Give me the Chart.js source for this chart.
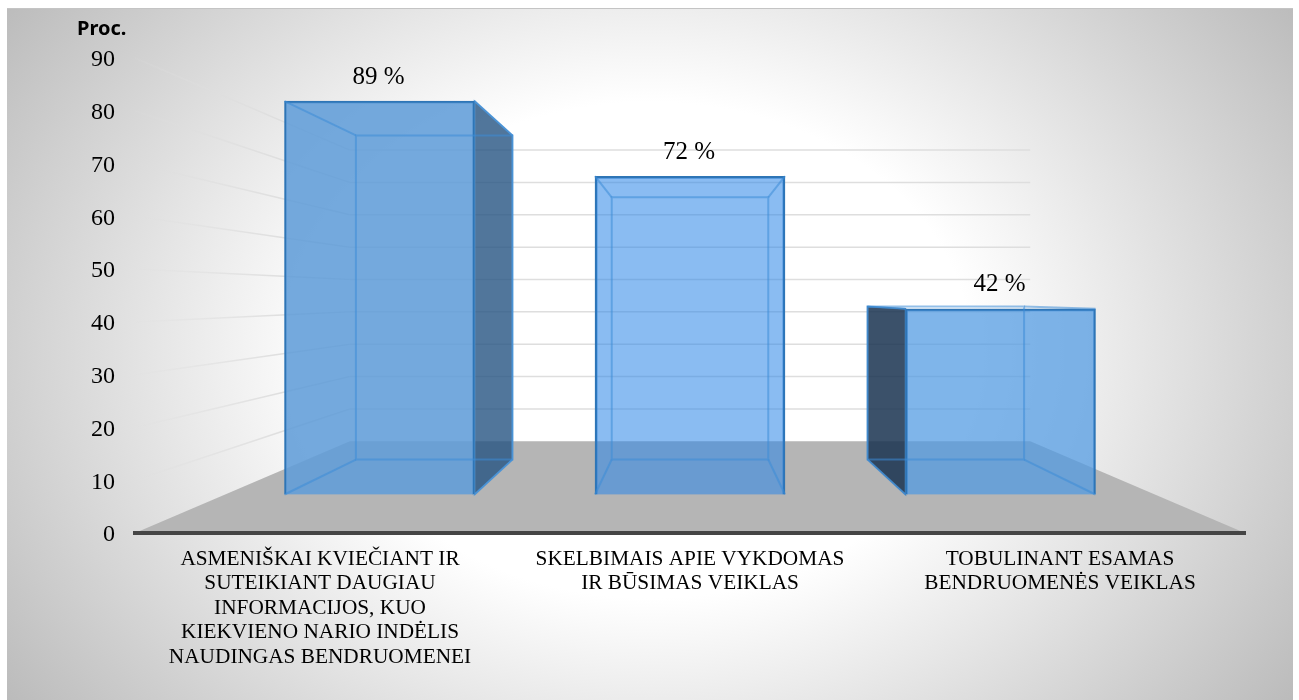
<!DOCTYPE html>
<html>
<head>
<meta charset="utf-8">
<title>Proc.</title>
<script src="https://cdn.jsdelivr.net/npm/chart.js@4"></script>
<style>
    body { margin: 0; background: #fff; }
    canvas { display: block; }
</style>
</head>
<body>
<canvas id="chart" width="1299" height="700"></canvas>
<script>
// Chart data
const categories = [
    ['ASMENIŠKAI KVIEČIANT IR', 'SUTEIKIANT DAUGIAU', 'INFORMACIJOS, KUO', 'KIEKVIENO NARIO INDĖLIS', 'NAUDINGAS BENDRUOMENEI'],
    ['SKELBIMAIS APIE VYKDOMAS', 'IR BŪSIMAS VEIKLAS'],
    ['TOBULINANT ESAMAS', 'BENDRUOMENĖS VEIKLAS']
];
const values = [89, 72, 42];
const valueLabels = ['89 %', '72 %', '42 %'];
const gridValues = [10, 20, 30, 40, 50, 60, 70, 80, 90];
const axisTitle = 'Proc.';

// Plot box and the perspective of the 3D scene
const plot = { left: 135, right: 1245, top: 58, bottom: 533 };
const vanishY = 296;
const barFront = 0.8375;   // depth of the front of the bars, the axis plane is 1
const barBack = 0.69;      // depth of the back of the bars
const wallDepth = 0.613;   // depth of the back wall
const vanishX = (plot.left + plot.right) / 2;
const barSpacing = 310.5;

// The bars are real Chart.js bars on hidden scales laid out for the front plane
const unit = (plot.bottom - plot.top) / 90;
const frontZero = vanishY + (plot.bottom - vanishY) * barFront;
const frontUnit = unit * barFront;

function project(x, y, depth) {
    return [vanishX + (x - vanishX) * depth, vanishY + (y - vanishY) * depth];
}

function polygon(ctx, pts) {
    ctx.beginPath();
    pts.forEach((p, i) => i ? ctx.lineTo(p[0], p[1]) : ctx.moveTo(p[0], p[1]));
    ctx.closePath();
}

// Corners of a bar's front face and of its back face
function barCorners(bar) {
    const half = bar.width / 2;
    const l = bar.x - half, r = bar.x + half, t = bar.y, b = bar.base;
    const k = barBack / barFront;
    return {
        l, r, t, b,
        tl: project(l, t, k), tr: project(r, t, k),
        bl: project(l, b, k), br: project(r, b, k)
    };
}

const scenePlugin = {
    id: 'scene',
    beforeDraw(chart) {
        const ctx = chart.ctx;
        const y = chart.scales.y;

        // Background
        ctx.save();
        ctx.translate(650, 350);
        ctx.scale(800, 620);
        const bg = ctx.createRadialGradient(0, 0, 0, 0, 0, 1);
        bg.addColorStop(0, '#ffffff');
        bg.addColorStop(0.4, '#ffffff');
        bg.addColorStop(1, '#b9b9b9');
        ctx.fillStyle = bg;
        ctx.fillRect(-643 / 800, -342 / 620, 1286 / 800, 692 / 620);
        ctx.restore();
        ctx.fillStyle = '#c4c4c4';
        ctx.fillRect(7, 8, 1286, 1);

        // Floor
        const backL = project(plot.left, plot.bottom, wallDepth);
        const backR = project(plot.right, plot.bottom, wallDepth);
        polygon(ctx, [[plot.left, plot.bottom], [plot.right, plot.bottom], backR, backL]);
        ctx.fillStyle = '#b5b5b5';
        ctx.fill();

        // Grid lines on the left and the back wall
        ctx.lineWidth = 1.5;
        gridValues.forEach(v => {
            const py = y.getPixelForValue(v);
            const a = project(plot.left, py, wallDepth);
            const b = project(plot.right, py, wallDepth);
            const fade = ctx.createLinearGradient(plot.left, py, a[0], a[1]);
            fade.addColorStop(0, 'rgba(222,222,222,0.1)');
            fade.addColorStop(0.7, 'rgba(222,222,222,1)');
            ctx.strokeStyle = fade;
            ctx.beginPath();
            ctx.moveTo(plot.left, py);
            ctx.lineTo(a[0], a[1]);
            ctx.stroke();
            ctx.strokeStyle = '#dedede';
            ctx.beginPath();
            ctx.moveTo(a[0], a[1]);
            ctx.lineTo(b[0], b[1]);
            ctx.stroke();
        });

        // Axis title
        ctx.fillStyle = '#000';
        ctx.font = 'bold 20px "Noto Sans"';
        ctx.textAlign = 'left';
        ctx.textBaseline = 'middle';
        ctx.fillText(axisTitle, 77, 29);
    },
    beforeDatasetsDraw(chart) {
        const ctx = chart.ctx;
        chart.getDatasetMeta(0).data.forEach(bar => {
            const c = barCorners(bar);
            // Dark side faces, only where they stick out of the front
            ctx.lineWidth = 1.5;
            if (c.tr[0] > c.r) {
                polygon(ctx, [[c.r, c.t], c.tr, c.br, [c.r, c.b]]);
                ctx.fillStyle = 'rgba(38,84,130,0.8)';
                ctx.fill();
                ctx.strokeStyle = '#5b9bd5';
                ctx.stroke();
            }
            if (c.tl[0] < c.l) {
                polygon(ctx, [[c.l, c.t], c.tl, c.bl, [c.l, c.b]]);
                ctx.fillStyle = 'rgba(25,50,80,0.85)';
                ctx.fill();
                ctx.strokeStyle = '#4a86bd';
                ctx.stroke();
            }
        });
    },
    afterDatasetsDraw(chart) {
        const ctx = chart.ctx;
        chart.getDatasetMeta(0).data.forEach((bar, i) => {
            const c = barCorners(bar);
            // Inside edges of the box
            ctx.strokeStyle = 'rgba(60,140,215,0.55)';
            ctx.lineWidth = 2;
            polygon(ctx, [c.tl, c.tr, c.br, c.bl]);
            ctx.stroke();
            [[[c.l, c.t], c.tl], [[c.r, c.t], c.tr], [[c.l, c.b], c.bl], [[c.r, c.b], c.br]].forEach(e => {
                ctx.beginPath();
                ctx.moveTo(e[0][0], e[0][1]);
                ctx.lineTo(e[1][0], e[1][1]);
                ctx.stroke();
            });
            // Value label
            ctx.fillStyle = '#000';
            ctx.font = '25px "Liberation Serif"';
            ctx.textAlign = 'center';
            ctx.textBaseline = 'middle';
            ctx.fillText(valueLabels[i], bar.x - 1, bar.y - 24);
        });
    }
};

new Chart(document.getElementById('chart'), {
    type: 'bar',
    data: {
        labels: categories,
        datasets: [{
            data: values.map((v, i) => ({ x: i, y: v })),
            xAxisID: 'xBar',
            yAxisID: 'yBar',
            barThickness: 190,
            backgroundColor: ['rgba(97,157,216,0.88)', 'rgba(42,133,231,0.55)', 'rgba(80,153,226,0.73)'],
            borderColor: '#2e75b6',
            borderWidth: 2
        }]
    },
    options: {
        responsive: false,
        animation: false,
        layout: { padding: { top: plot.top, right: 1299 - plot.right } },
        plugins: { legend: { display: false }, tooltip: { enabled: false } },
        scales: {
            x: {
                type: 'category',
                offset: true,
                afterFit: scale => { scale.height = 700 - plot.bottom; },
                grid: { display: false, drawTicks: false },
                border: { color: '#454545', width: 4 },
                ticks: {
                    color: '#000',
                    padding: 14,
                    maxRotation: 0,
                    autoSkip: false,
                    font: { family: '"Liberation Serif"', size: 21.3, lineHeight: 1.15 }
                }
            },
            y: {
                min: 0,
                max: 90,
                afterFit: scale => { scale.width = plot.left; },
                grid: { display: false, drawTicks: false },
                border: { display: false },
                ticks: {
                    stepSize: 10,
                    color: '#000',
                    padding: 20,
                    labelOffset: 2,
                    font: { family: '"Liberation Serif"', size: 24 }
                }
            },
            xBar: {
                type: 'linear',
                display: false,
                offset: false,
                min: 1 - (vanishX - plot.left) / barSpacing,
                max: 1 + (plot.right - vanishX) / barSpacing
            },
            yBar: {
                type: 'linear',
                display: false,
                min: (frontZero - plot.bottom) / frontUnit,
                max: (frontZero - plot.top) / frontUnit
            }
        }
    },
    plugins: [scenePlugin]
});
</script>
</body>
</html>
